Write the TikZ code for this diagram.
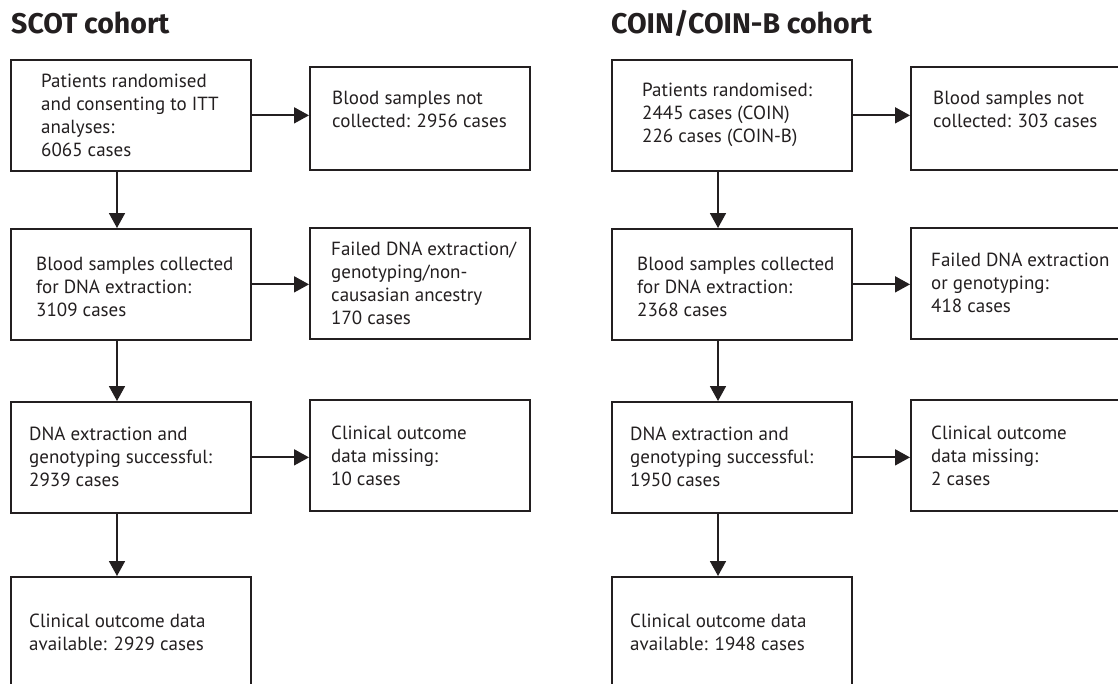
\documentclass[tikz,border=0pt]{standalone}
\usepackage{fontspec}
\setmainfont{PT Sans}
\newfontfamily\ttlfont{Fira Sans}
\usetikzlibrary{arrows.meta}
\definecolor{ink}{HTML}{231F20}
\begin{document}
\begin{tikzpicture}[x=1pt,y=-1pt,
  box/.style={draw=ink, line width=1.7pt, rectangle, inner sep=0pt, minimum height=111pt},
  wl/.style={box, minimum width=240pt},
  wr/.style={box, minimum width=220pt},
  top/.style={minimum height=103pt},
  txt/.style={align=left, inner sep=0pt, text=ink, font=\fontsize{19}{23}\selectfont, anchor=west},
  ttl/.style={inner sep=0pt, text=ink, font=\ttlfont\bfseries\fontsize{28.5}{32}\selectfont, anchor=base west},
  arr/.style={draw=ink, line width=1.8pt, -{Triangle[length=15pt,width=16pt]}}]
\clip (0,0) rectangle (1118,683);
\fill[white] (0,0) rectangle (1118,683);
% titles
\node[ttl] (t1) at (11,33) {SCOT cohort};
\node[ttl] (t2) at (611,33) {COIN/COIN-B cohort};
% SCOT boxes
\node[wl, anchor=north west] (s1) at (10,59) {};
\node[wl, anchor=north west] (s2) at (10,228) {};
\node[wl, anchor=north west] (s3) at (10,401) {};
\node[wl, anchor=north west] (s4) at (10,576) {};
\node[wr, top, anchor=north west] (r1) at (309,66) {};
\node[wr, anchor=north west] (r2) at (309,227) {};
\node[wr, anchor=north west] (r3) at (309,399) {};
% COIN boxes
\node[wl, anchor=north west] (c1) at (611,59) {};
\node[wl, anchor=north west] (c2) at (611,228) {};
\node[wl, anchor=north west] (c3) at (611,401) {};
\node[wl, anchor=north west] (c4) at (611,576) {};
\node[wr, top, anchor=north west] (d1) at (910,66) {};
\node[wr, anchor=north west] (d2) at (910,227) {};
\node[wr, anchor=north west] (d3) at (910,399) {};
% texts SCOT
\node[txt] (s1t) at ([xshift=31pt]s1.west) {Patients randomised\\and consenting to ITT\\analyses:\\6065 cases};
\node[txt] (s2t) at ([xshift=26pt,yshift=-3pt]s2.west) {Blood samples collected\\for DNA extraction:\\3109 cases};
\node[txt] (s3t) at ([xshift=19pt]s3.west) {DNA extraction and\\genotyping successful:\\2939 cases};
\node[txt] (s4t) at ([xshift=19pt]s4.west) {Clinical outcome data\\available: 2929 cases};
\node[txt] (r1t) at ([xshift=23pt,yshift=9pt]r1.west) {Blood samples not\\collected: 2956 cases};
\node[txt] (r2t) at ([xshift=22pt]r2.west) {Failed DNA extraction/\\genotyping/non-\\causasian ancestry\\170 cases};
\node[txt] (r3t) at ([xshift=22pt]r3.west) {Clinical outcome\\data missing:\\10 cases};
% texts COIN
\node[txt] (c1t) at ([xshift=31pt]c1.west) {Patients randomised:\\2445 cases (COIN)\\226 cases (COIN-B)};
\node[txt] (c2t) at ([xshift=26pt,yshift=-3pt]c2.west) {Blood samples collected\\for DNA extraction:\\2368 cases};
\node[txt] (c3t) at ([xshift=19pt]c3.west) {DNA extraction and\\genotyping successful:\\1950 cases};
\node[txt] (c4t) at ([xshift=19pt]c4.west) {Clinical outcome data\\available: 1948 cases};
\node[txt] (d1t) at ([xshift=23pt,yshift=9pt]d1.west) {Blood samples not\\collected: 303 cases};
\node[txt] (d2t) at ([xshift=21pt]d2.west) {Failed DNA extraction\\or genotyping:\\418 cases};
\node[txt] (d3t) at ([xshift=21pt]d3.west) {Clinical outcome\\data missing:\\2 cases};
% arrow columns
\coordinate (sx) at (117,0);
\coordinate (cx) at (718,0);
\draw[arr] (sx |- s1.south) -- (sx |- s2.north);
\draw[arr] (sx |- s2.south) -- (sx |- s3.north);
\draw[arr] (sx |- s3.south) -- (sx |- s4.north);
\draw[arr] (cx |- c1.south) -- (cx |- c2.north);
\draw[arr] (cx |- c2.south) -- (cx |- c3.north);
\draw[arr] (cx |- c3.south) -- (cx |- c4.north);
\draw[arr] (s1.east) -- (s1.east -| r1.west);
\draw[arr] (s2.east) -- (s2.east -| r2.west);
\draw[arr] (s3.east) -- (s3.east -| r3.west);
\draw[arr] (c1.east) -- (c1.east -| d1.west);
\draw[arr] (c2.east) -- (c2.east -| d2.west);
\draw[arr] (c3.east) -- (c3.east -| d3.west);
\end{tikzpicture}
\end{document}
